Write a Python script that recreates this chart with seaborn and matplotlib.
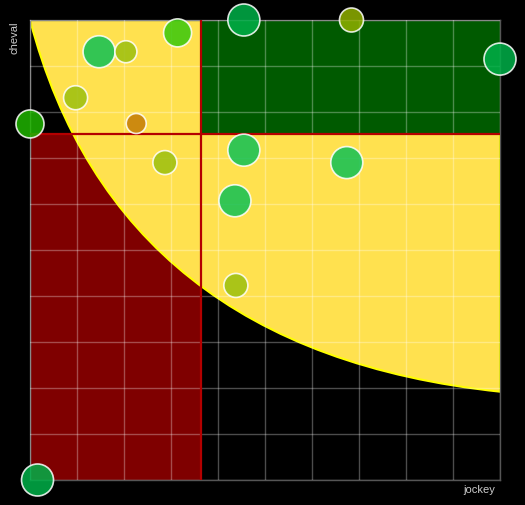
import matplotlib
matplotlib.use('Agg')
import matplotlib.pyplot as plt
from matplotlib.path import Path
from matplotlib.patches import PathPatch, Rectangle
import pandas as pd
import seaborn as sns

# bubbles: jockey score (x), cheval score (y), bubble weight, form class
jockey = [4.55, 6.84, 10.0, 3.14, 1.47, 2.04, 0.97, 0.0, 2.26, 2.87, 4.55, 6.74, 4.36, 4.38, 0.16]
cheval = [10.0, 10.0, 9.15, 9.72, 9.31, 9.31, 8.31, 7.74, 7.75, 6.90, 7.17, 6.90, 6.07, 4.23, 0.0]
poids = [16, 12, 16, 14, 16, 11, 12, 14, 10, 12, 16, 16, 16, 12, 16]
forme = ['vert', 'olive', 'vert', 'lime', 'vert clair', 'jaune', 'jaune', 'herbe',
         'orange', 'jaune', 'vert clair', 'vert clair', 'vert clair', 'jaune', 'vert']

# zones
x_seuil = 3.64
y_seuil = 7.52
courbe_x = [0.0, 1.85, 10.0]   # quadratic bezier: start, control, end
courbe_y = [10.0, 2.8, 1.92]

palette = {'vert': '#00b048', 'vert clair': '#0fc054', 'lime': '#37c80b',
           'herbe': '#1fb500', 'olive': '#90b000', 'jaune': '#9bbf0f',
           'orange': '#c37b05'}

df = pd.DataFrame({'jockey': jockey, 'cheval': cheval, 'poids': poids, 'forme': forme})

sns.set_theme(style='dark')
plt.rcParams['font.family'] = ['Liberation Sans', 'DejaVu Sans']

fig = plt.figure(figsize=(5.25, 5.05), dpi=100, facecolor='black')
ax = fig.add_axes([30 / 525, 25 / 505, 470 / 525, 460 / 505])
ax.set_facecolor('black')
ax.set_xlim(0, 10)
ax.set_ylim(0, 10)

# red zone (bottom left)
ax.add_patch(Rectangle((0, 0), x_seuil, y_seuil, facecolor='#7f0000', edgecolor='none', zorder=0.5))

# yellow zone above the curve
verts = [(courbe_x[0], courbe_y[0]), (courbe_x[1], courbe_y[1]), (courbe_x[2], courbe_y[2]),
         (10, 10), (courbe_x[0], courbe_y[0])]
codes = [Path.MOVETO, Path.CURVE3, Path.CURVE3, Path.LINETO, Path.CLOSEPOLY]
ax.add_patch(PathPatch(Path(verts, codes), facecolor='#ffe14f', edgecolor='#ffff00', lw=1.5, zorder=0.6))

# green zone (top right)
ax.add_patch(Rectangle((x_seuil, y_seuil), 10 - x_seuil, 10 - y_seuil,
                       facecolor='#005a00', edgecolor='none', zorder=0.7))

ax.set_xticks(range(11))
ax.set_yticks(range(11))
ax.tick_params(length=0, labelbottom=False, labelleft=False)
ax.set_axisbelow(False)
ax.grid(True, color='white', alpha=0.3, lw=1)
for s in ax.spines.values():
    s.set_color('#555555')
    s.set_linewidth(1)

ax.axvline(x_seuil, color='#b40000', lw=1.6, zorder=3)
ax.axhline(y_seuil, color='#b40000', lw=1.6, zorder=3)

size_map = {p: (2 * p * 0.72) ** 2 for p in set(poids)}
sns.scatterplot(data=df, x='jockey', y='cheval', hue='forme', palette=palette,
                size='poids', sizes=size_map, alpha=0.85, edgecolor='white',
                linewidth=1.2, legend=False, zorder=4, clip_on=False, ax=ax)
ax.set_xlabel('')
ax.set_ylabel('')

fig.text(15 / 525, 1 - 38 / 505, 'cheval', rotation=90, ha='center', va='center',
         color='#cccccc', fontsize=8)
fig.text(495 / 525, 1 - 490 / 505, 'jockey', ha='right', va='center',
         color='#cccccc', fontsize=8)

fig.savefig('out.png', dpi=100, facecolor='black')
